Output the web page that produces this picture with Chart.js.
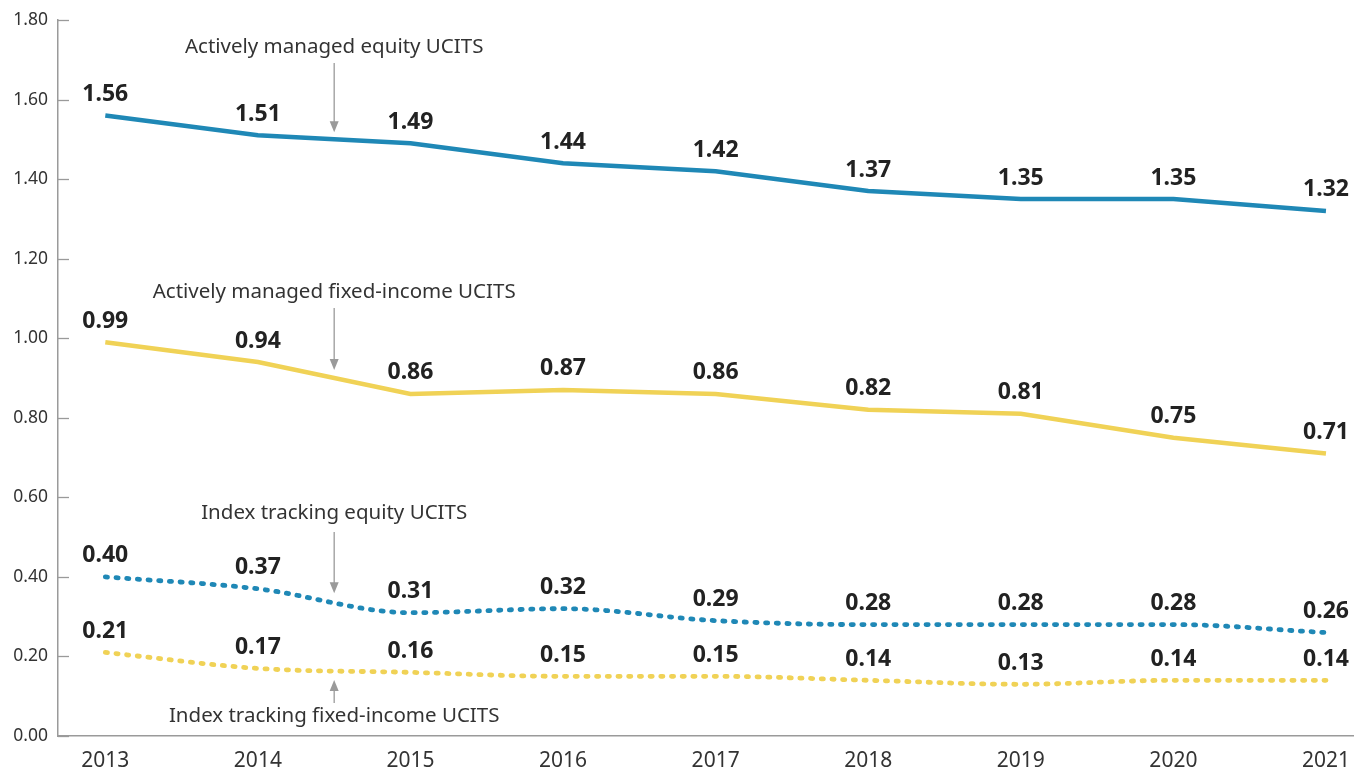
<!DOCTYPE html>
<html>
<head>
<meta charset="utf-8">
<script src="https://cdn.jsdelivr.net/npm/chart.js@4"></script>
<style>
  html, body { margin: 0; padding: 0; background: #ffffff; }
  .wrap { position: relative; width: 1354px; height: 768px; }
</style>
</head>
<body>
<div class="wrap"><canvas id="feesChart"></canvas></div>
<script>
// Data
const years = [2013, 2014, 2015, 2016, 2017, 2018, 2019, 2020, 2021];
const activeEquity = [1.56, 1.51, 1.49, 1.44, 1.42, 1.37, 1.35, 1.35, 1.32];
const activeFixedIncome = [0.99, 0.94, 0.86, 0.87, 0.86, 0.82, 0.81, 0.75, 0.71];
const indexEquity = [0.40, 0.37, 0.31, 0.32, 0.29, 0.28, 0.28, 0.28, 0.26];
const indexFixedIncome = [0.21, 0.17, 0.16, 0.15, 0.15, 0.14, 0.13, 0.14, 0.14];
const yTicks = [0, 0.2, 0.4, 0.6, 0.8, 1.0, 1.2, 1.4, 1.6, 1.8];

// Annotation labels: x in years, text y and arrow start/end in axis values
const noteLabels = ['Actively managed equity UCITS', 'Actively managed fixed-income UCITS',
  'Index tracking equity UCITS', 'Index tracking fixed-income UCITS'];
const noteX = [2014.5, 2014.5, 2014.5, 2014.5];
const noteTextY = [1.732, 1.116, 0.561, 0.05];
const noteArrowFrom = [1.692, 1.076, 0.513, 0.083];
const noteArrowTo = [1.518, 0.92, 0.359, 0.141];

const colors = {
  blue: '#1f88b6',
  yellow: '#f0d256',
  text: '#222222',
  axis: '#9a9a9a',
  arrow: '#9a9a9a'
};
const FONT = "'Noto Sans', 'Open Sans', sans-serif";

const toPoints = arr => arr.map((v, i) => ({ x: years[i], y: v }));

// Bold value labels above every point
const valueLabels = {
  id: 'valueLabels',
  afterDatasetsDraw(chart) {
    const ctx = chart.ctx;
    ctx.save();
    ctx.font = 'bold 23px ' + FONT;
    ctx.fillStyle = colors.text;
    ctx.textAlign = 'center';
    ctx.textBaseline = 'middle';
    chart.data.datasets.forEach((ds, i) => {
      chart.getDatasetMeta(i).data.forEach((pt, j) => {
        ctx.fillText(ds.data[j].y.toFixed(2), pt.x, pt.y - 21);
      });
    });
    ctx.restore();
  }
};

// Series names with arrows pointing at the lines
const notes = {
  id: 'notes',
  afterDatasetsDraw(chart) {
    const ctx = chart.ctx;
    const xs = chart.scales.x, ys = chart.scales.y;
    ctx.save();
    noteLabels.forEach((label, i) => {
      const x = xs.getPixelForValue(noteX[i]);
      const ty = ys.getPixelForValue(noteTextY[i]);
      const y0 = ys.getPixelForValue(noteArrowFrom[i]);
      const y1 = ys.getPixelForValue(noteArrowTo[i]);
      ctx.font = '20.5px ' + FONT;
      ctx.fillStyle = '#333333';
      ctx.textAlign = 'center';
      ctx.textBaseline = 'middle';
      ctx.fillText(label, x, ty);

      ctx.strokeStyle = colors.arrow;
      ctx.fillStyle = colors.arrow;
      ctx.lineWidth = 1.3;
      const dir = y1 > y0 ? 1 : -1;
      ctx.beginPath();
      ctx.moveTo(x, y0);
      ctx.lineTo(x, y1 - dir * 6);
      ctx.stroke();
      ctx.beginPath();
      ctx.moveTo(x, y1);
      ctx.lineTo(x - 4.5, y1 - dir * 11);
      ctx.lineTo(x + 4.5, y1 - dir * 11);
      ctx.closePath();
      ctx.fill();
    });
    ctx.restore();
  }
};

// Short tick marks pointing into the plot from the y axis
const innerTicks = {
  id: 'innerTicks',
  beforeDatasetsDraw(chart) {
    const ctx = chart.ctx;
    const ys = chart.scales.y;
    const left = chart.chartArea.left;
    ctx.save();
    ctx.strokeStyle = colors.axis;
    ctx.lineWidth = 1.3;
    yTicks.forEach(v => {
      const y = Math.round(ys.getPixelForValue(v)) + 0.5;
      ctx.beginPath();
      ctx.moveTo(left, y);
      ctx.lineTo(left + 11, y);
      ctx.stroke();
    });
    ctx.restore();
  }
};

const solid = (label, data, color) => ({
  label: label,
  data: toPoints(data),
  borderColor: color,
  backgroundColor: color,
  borderWidth: 4.5,
  pointRadius: 0,
  tension: 0,
  fill: false
});

const dotted = (label, data, color) => ({
  label: label,
  data: toPoints(data),
  borderColor: color,
  backgroundColor: color,
  borderWidth: 4.8,
  borderDash: [2.2, 8.5],
  borderCapStyle: 'round',
  pointRadius: 0,
  cubicInterpolationMode: 'monotone',
  fill: false
});

new Chart(document.getElementById('feesChart'), {
  type: 'line',
  data: {
    datasets: [
      solid(noteLabels[0], activeEquity, colors.blue),
      solid(noteLabels[1], activeFixedIncome, colors.yellow),
      dotted(noteLabels[2], indexEquity, colors.blue),
      dotted(noteLabels[3], indexFixedIncome, colors.yellow)
    ]
  },
  options: {
    responsive: true,
    maintainAspectRatio: false,
    animation: false,
    layout: { padding: { top: 20, right: 0, left: 0, bottom: 0 } },
    plugins: {
      legend: { display: false },
      tooltip: { enabled: false }
    },
    scales: {
      x: {
        type: 'linear',
        min: 2012.69,
        max: 2021.18,
        grid: { display: false },
        border: { display: true, color: colors.axis, width: 1.5 },
        afterBuildTicks: scale => { scale.ticks = years.map(v => ({ value: v })); },
        afterFit: scale => { scale.height = 32; },
        ticks: {
          color: '#333333',
          padding: 4,
          maxRotation: 0,
          font: { family: FONT, size: 21 },
          callback: v => String(v)
        }
      },
      y: {
        min: 0,
        max: 1.8,
        grid: { display: false },
        border: { display: true, color: colors.axis, width: 1.5 },
        afterBuildTicks: scale => { scale.ticks = yTicks.map(v => ({ value: v })); },
        afterFit: scale => { scale.width = 58; },
        ticks: {
          color: '#333333',
          padding: 2,
          font: { family: FONT, size: 17.5 },
          callback: v => v.toFixed(2)
        }
      }
    }
  },
  plugins: [innerTicks, valueLabels, notes]
});
</script>
</body>
</html>
